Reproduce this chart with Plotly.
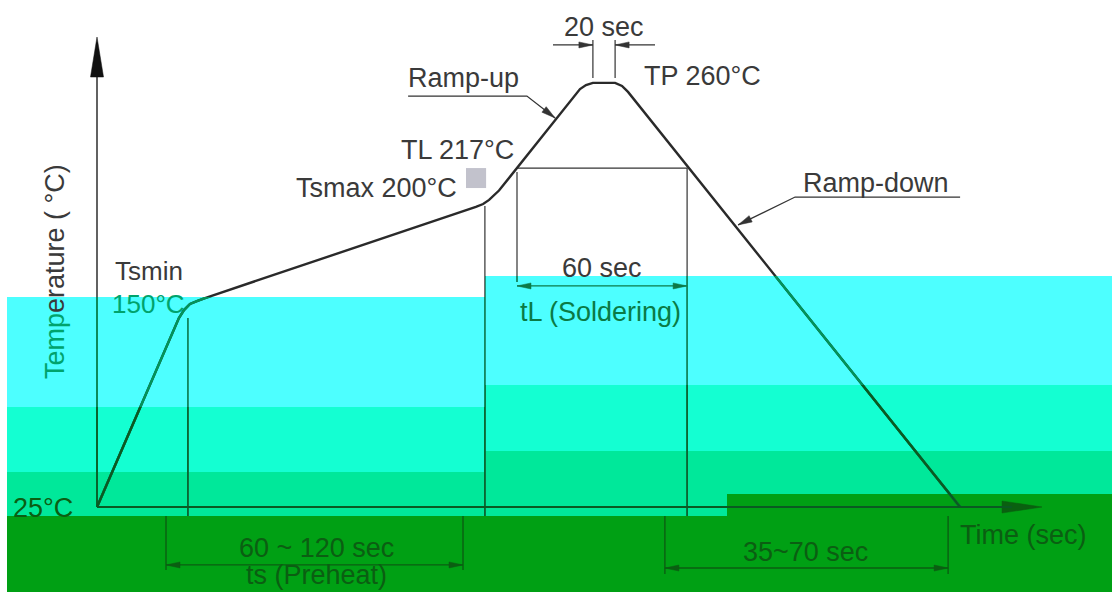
import math
import plotly.graph_objects as go

FONT = "Liberation Sans, Arial, sans-serif"

# ---------------- data (schematic reflow profile, time in s, temperature in °C) ----------------
profile_time = [0, 27.3, 29.0, 31.0, 33.3, 36.0, 126.3, 128.7, 130.7, 132.3, 134.0,
                161.0, 163.0, 165.3, 172.7, 175.0, 177.0, 287.7]
profile_temp = [25, 130.0, 134.4, 137.8, 139.4, 141.1, 191.7, 193.3, 195.6, 198.3, 200.8,
                257.2, 259.4, 260.6, 260.6, 258.9, 255.6, 25]

axis_time_end = 315.0
axis_temp_end = 286.1
base_temp = 25.0

# vertical guide lines: time, top, bottom
guide_time = [30.3, 129.3, 140.0, 196.7, 165.3, 172.7]
guide_top = [130.0, 192.2, 211.1, 213.3, 284.4, 284.4]
guide_bottom = [20.0, 20.0, 150.0, 20.0, 263.3, 263.3]

# TL horizontal line
tl_time = [140.0, 196.7]
tl_temp = [213.3, 213.3]

# dimension ticks under the time axis
dim_tick_time = [23.0, 122.0, 189.3, 283.7]
dim_tick_top = [20.0, 20.0, 20.0, 20.0]
dim_tick_bottom = [-10.0, -10.0, -12.2, -12.2]

# dimension arrows: start, end, level, double-headed
dim_from = [23.0, 189.3, 140.0, 152.0, 186.0]
dim_to = [122.0, 283.7, 196.7, 165.3, 172.7]
dim_level = [-7.2, -8.9, 147.8, 281.7, 281.7]
dim_double = [True, True, True, False, False]
dim_color = ["#0b5e12", "#0b5e12", "#0d7a48", "#333333", "#333333"]

# leader lines (label underline + pointer)
leader_rampup_t = [103.7, 143.3, 152.7]
leader_rampup_T = [253.3, 253.3, 241.1]
leader_rampdown_t = [287.7, 232.7, 213.7]
leader_rampdown_T = [197.2, 197.2, 181.7]

# background colour bands: t0, t1, T0, T1, colour
band_t0 = [-30.0, -30.0, -30.0, 129.3, 129.3, 129.3, 210.0, 210.0, -30.0, 123.0]
band_t1 = [129.3, 129.3, 129.3, 338.4, 338.4, 210.0, 338.4, 338.4, 338.4, 129.7]
band_T0 = [80.6, 44.4, 20.0, 92.8, 56.1, 20.0, 32.2, 20.0, -23.0, 202.2]
band_T1 = [141.7, 80.6, 44.4, 153.3, 92.8, 56.1, 56.1, 32.2, 20.0, 213.3]
band_color = ["#4dffff", "#14ffd2", "#00e89a", "#4dffff", "#14ffd2", "#00e89a",
              "#00e89a", "#00a014", "#00a014", "#c2c2cc"]

# tint zones (where line art takes a green tone): t0, t1, top temperature, colour
tint_t0 = [-32.333, 129.3, -32.333, 129.3]
tint_t1 = [129.3, 338.333, 129.3, 338.333]
tint_top = [141.7, 153.3, 80.6, 92.8]
tint_color = ["#00955a", "#00955a", "#0a5a22", "#0a5a22"]

# labels
label_text = ["Ramp-up", "TP 260°C", "20 sec", "TL 217°C", "Tsmax 200°C", "Ramp-down",
              "Tsmin", "150°C", "60 sec", "tL (Soldering)", "60 ~ 120 sec", "ts (Preheat)",
              "35~70 sec", "Time (sec)", "25°C"]
label_time = [122.0, 181.7, 169.0, 120.0, 93.3, 259.7,
              5.3, 4.3, 168.3, 167.8, 73.0, 73.0,
              236.3, 308.7, -18.0]
label_temp = [263.3, 264.4, 291.7, 223.3, 202.2, 205.0,
              156.1, 137.8, 157.8, 133.3, 2.2, -13.0,
              0.0, 9.4, 24.4]
label_anchor = ["center", "left", "center", "center", "center", "center",
                "left", "left", "center", "center", "center", "center",
                "center", "center", "center"]
label_size = [27, 27, 27, 27, 27, 27, 26, 26, 27, 27, 27, 27, 27, 27, 27]
label_color = ["#3a3a3a", "#3a3a3a", "#3a3a3a", "#3a3a3a", "#3a3a3a", "#3a3a3a",
               "#3a3a3a", "#00a36c", "#3a3a3a", "#0a7a45", "#0b5e12", "#0b5e12",
               "#0b5e12", "#0b5e12", "#0b5e12"]

# ---------------- figure ----------------
W, H = 1112, 592
X_RANGE = [-32.333, 338.333]
Y_RANGE = [-22.222, 306.667]
PX_S = W / (X_RANGE[1] - X_RANGE[0])
PX_C = H / (Y_RANGE[1] - Y_RANGE[0])

fig = go.Figure()

shapes = []
for t0, t1, a, b, c in zip(band_t0, band_t1, band_T0, band_T1, band_color):
    shapes.append(dict(type="rect", xref="x", yref="y", x0=t0, x1=t1, y0=a, y1=b,
                       fillcolor=c, line=dict(width=0), layer="below"))


def seg_trace(xs, ys, color, width, xa="x", ya="y"):
    fig.add_trace(go.Scatter(x=xs, y=ys, mode="lines", line=dict(color=color, width=width),
                             xaxis=xa, yaxis=ya, hoverinfo="skip", showlegend=False))


def head(tip_t, tip_T, tail_t, tail_T, length, half, color):
    dx = (tip_t - tail_t) * PX_S
    dy = (tip_T - tail_T) * PX_C
    n = math.hypot(dx, dy)
    ux, uy = dx / n, dy / n
    bx, by = -ux * length, -uy * length
    px, py = -uy * half, ux * half
    pts = [(0, 0), (bx + px, by + py), (bx - px, by - py), (0, 0)]
    fig.add_trace(go.Scatter(x=[tip_t + p[0] / PX_S for p in pts],
                             y=[tip_T + p[1] / PX_C for p in pts],
                             mode="lines", fill="toself", fillcolor=color,
                             line=dict(color=color, width=0.5),
                             hoverinfo="skip", showlegend=False))


def structure(xa, ya, tint=None):
    """Axes lines, guide lines and the profile curve."""
    seg_trace([0, 0], [base_temp, axis_temp_end - 10], tint or "#3a3a3a", 1.6, xa, ya)
    seg_trace([0, axis_time_end - 10], [base_temp, base_temp], tint or "#1f4a28", 2.0, xa, ya)
    gx, gy = [], []
    for t, a, b in zip(guide_time, guide_top, guide_bottom):
        gx += [t, t, None]
        gy += [a, b, None]
    gx += tl_time + [None]
    gy += tl_temp + [None]
    seg_trace(gx, gy, tint or "#333333", 1.2, xa, ya)
    seg_trace(profile_time, profile_temp, tint or "#2a2a2a", 2.4, xa, ya)


# main layer
structure("x", "y")
head(0, axis_temp_end, 0, base_temp, 40, 6.5, "#111111")

# green-tinted copies, clipped to the coloured zones via sub-plot domains
extra_axes = {}
for i, (t0, t1, top, col) in enumerate(zip(tint_t0, tint_t1, tint_top, tint_color)):
    k = i + 2
    x_lo = (t0 - X_RANGE[0]) * PX_S / W
    x_hi = (t1 - X_RANGE[0]) * PX_S / W
    y_hi = (top - Y_RANGE[0]) * PX_C / H
    extra_axes[f"xaxis{k}"] = dict(domain=[max(0, x_lo), min(1, x_hi)], range=[t0, t1],
                                   visible=False, fixedrange=True, anchor=f"y{k}")
    extra_axes[f"yaxis{k}"] = dict(domain=[0, min(1, y_hi)], range=[Y_RANGE[0], top],
                                   visible=False, fixedrange=True, anchor=f"x{k}")
    structure(f"x{k}", f"y{k}", col)

head(axis_time_end, base_temp, 0, base_temp, 40, 6, "#0a6010")

# dimension ticks
dx_, dy_ = [], []
for t, a, b in zip(dim_tick_time, dim_tick_top, dim_tick_bottom):
    dx_ += [t, t, None]
    dy_ += [a, b, None]
seg_trace(dx_, dy_, "#0b5e12", 1.4)

# dimension arrows
for f, t, lv, dbl, c in zip(dim_from, dim_to, dim_level, dim_double, dim_color):
    seg_trace([f, t], [lv, lv], c, 1.3)
    head(t, lv, f, lv, 14, 3, c)
    if dbl:
        head(f, lv, t, lv, 14, 3, c)

# leaders
seg_trace(leader_rampup_t, leader_rampup_T, "#333333", 1.3)
head(leader_rampup_t[-1], leader_rampup_T[-1], leader_rampup_t[-2], leader_rampup_T[-2], 14, 3.5, "#333333")
seg_trace(leader_rampdown_t, leader_rampdown_T, "#333333", 1.3)
head(leader_rampdown_t[-1], leader_rampdown_T[-1], leader_rampdown_t[-2], leader_rampdown_T[-2], 14, 3.5, "#333333")

annotations = []
for txt, t, T, anc, sz, col in zip(label_text, label_time, label_temp, label_anchor, label_size, label_color):
    annotations.append(dict(x=t, y=T, xref="x", yref="y", text=txt, showarrow=False,
                            xanchor=anc, yanchor="middle",
                            font=dict(family=FONT, size=sz, color=col)))
annotations.append(dict(x=-14.0, y=155.5, xref="x", yref="y",
                        text="<span style='color:#00a36c'>Temp</span>erature ( °C)",
                        textangle=-90, showarrow=False, xanchor="center", yanchor="middle",
                        font=dict(family=FONT, size=27, color="#3a3a3a")))

fig.update_layout(
    width=W, height=H, margin=dict(l=0, r=0, t=0, b=0),
    paper_bgcolor="white", plot_bgcolor="rgba(0,0,0,0)",
    xaxis=dict(range=X_RANGE, visible=False, fixedrange=True, domain=[0, 1]),
    yaxis=dict(range=Y_RANGE, visible=False, fixedrange=True, domain=[0, 1]),
    shapes=shapes, annotations=annotations, showlegend=False,
    **extra_axes,
)

fig.write_html("out.html", config={"displayModeBar": False},
               post_script="document.body.style.margin='0px';")
